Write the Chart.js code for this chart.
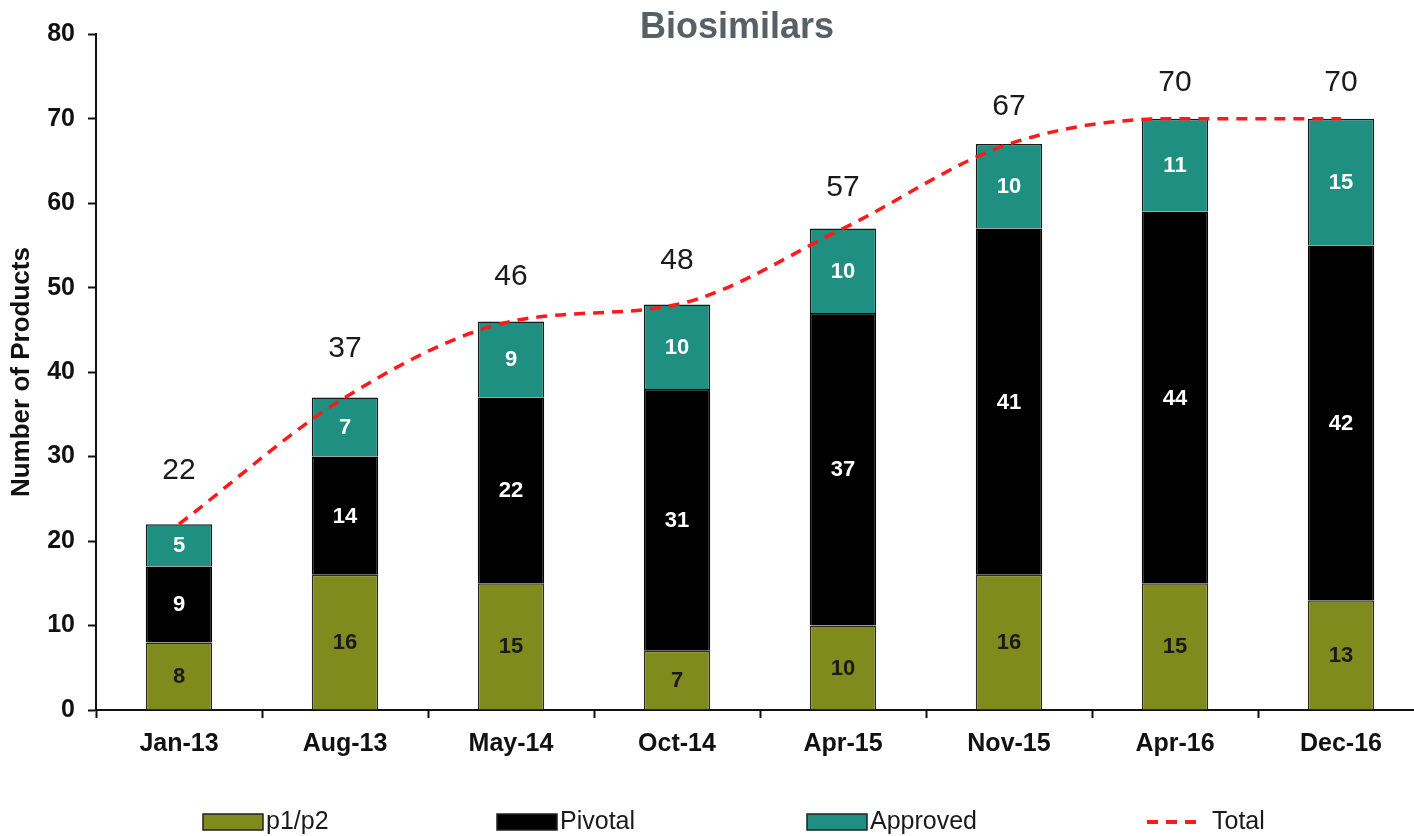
<!DOCTYPE html>
<html><head><meta charset="utf-8">
<script src="https://cdn.jsdelivr.net/npm/chart.js@4/dist/chart.umd.min.js"></script>
<style>html,body{margin:0;padding:0;overflow:hidden;background:#fff}#wrap{width:1474px;height:836px;position:relative}</style>
</head><body><div id="wrap"><canvas id="c"></canvas></div>
<script>
const categories = ['Jan-13','Aug-13','May-14','Oct-14','Apr-15','Nov-15','Apr-16','Dec-16'];
const p1p2 = [8,16,15,7,10,16,15,13];
const pivotal = [9,14,22,31,37,41,44,42];
const approved = [5,7,9,10,10,10,11,15];
const total = [22,37,46,48,57,67,70,70];
const seriesNames = ['p1/p2','Pivotal','Approved','Total'];
const yMin = 0, yMax = 80, yStep = 10;

const FONT = '"Liberation Sans", Arial, sans-serif';
Chart.defaults.font.family = FONT;

const valueLabels = {
  id: 'valueLabels',
  afterDatasetsDraw(chart) {
    const ctx = chart.ctx;
    chart.data.datasets.forEach((ds, i) => {
      const meta = chart.getDatasetMeta(i);
      if (!chart.isDatasetVisible(i)) return;
      ctx.save();
      ctx.textAlign = 'center';
      ctx.textBaseline = 'middle';
      meta.data.forEach((el, j) => {
        const v = ds.data[j];
        if (ds.type === 'line') {
          ctx.font = '30px ' + FONT;
          ctx.fillStyle = '#1a1a1a';
          const off = 62 - 0.37 * v;
          ctx.fillText(String(v), el.x, el.y - off);
        } else {
          const p = el.getProps(['x', 'y', 'base'], true);
          ctx.font = 'bold 22px ' + FONT;
          ctx.fillStyle = ds.labelColor;
          ctx.fillText(String(v), p.x, (p.y + p.base) / 2 + 1);
        }
      });
      ctx.restore();
    });
  }
};

const bottomLegend = {
  id: 'bottomLegend',
  afterDraw(chart) {
    const ctx = chart.ctx;
    const slots = [203, 497, 807, 1147];
    const cy = 822;
    ctx.save();
    ctx.font = '25px ' + FONT;
    ctx.textBaseline = 'middle';
    ctx.textAlign = 'left';
    chart.data.datasets.forEach((ds, i) => {
      const x = slots[i];
      if (ds.type === 'line') {
        ctx.save();
        ctx.strokeStyle = ds.borderColor;
        ctx.lineWidth = 4;
        ctx.setLineDash([11, 8]);
        ctx.beginPath();
        ctx.moveTo(x, cy);
        ctx.lineTo(x + 52, cy);
        ctx.stroke();
        ctx.restore();
        ctx.fillStyle = '#1a1a1a';
        ctx.fillText(ds.label, x + 65, cy);
      } else {
        ctx.fillStyle = ds.backgroundColor;
        ctx.fillRect(x, cy - 8, 60, 16);
        ctx.strokeStyle = '#222';
        ctx.lineWidth = 1.5;
        ctx.strokeRect(x, cy - 8, 60, 16);
        ctx.fillStyle = '#1a1a1a';
        ctx.fillText(ds.label, x + 63, cy);
      }
    });
    ctx.restore();
  }
};

new Chart(document.getElementById('c'), {
  data: {
    labels: categories,
    datasets: [
      { type: 'bar', label: seriesNames[0], data: p1p2, backgroundColor: '#808b1d', borderColor: '#2a2a2a', borderWidth: 1.5, labelColor: '#1a1a1a', stack: 's', order: 1 },
      { type: 'bar', label: seriesNames[1], data: pivotal, backgroundColor: '#000000', borderColor: '#000000', borderWidth: 1.5, labelColor: '#ffffff', stack: 's', order: 1 },
      { type: 'bar', label: seriesNames[2], data: approved, backgroundColor: '#1e8f80', borderColor: '#1a1a1a', borderWidth: 1.5, labelColor: '#ffffff', stack: 's', order: 1 },
      { type: 'line', label: seriesNames[3], data: total, borderColor: '#ff1a1a', backgroundColor: '#ff1a1a', borderWidth: 3.5, borderDash: [11, 8], pointRadius: 0, cubicInterpolationMode: 'monotone', fill: false, stack: 't', order: 0 }
    ]
  },
  options: {
    responsive: true,
    maintainAspectRatio: false,
    animation: false,
    layout: { padding: 0 },
    datasets: { bar: { categoryPercentage: 1, barPercentage: 0.4 } },
    plugins: {
      legend: { display: false },
      tooltip: { enabled: false },
      title: {
        display: true,
        text: 'Biosimilars',
        color: '#566066',
        font: { size: 36, weight: 'bold' },
        padding: { top: 6, bottom: -15 }
      }
    },
    scales: {
      x: {
        stacked: true,
        offset: true,
        afterFit(s) { s.height = 126; },
        grid: { display: true, drawOnChartArea: false, drawTicks: true, tickLength: 8, tickWidth: 2, tickColor: '#111', offset: true },
        border: { display: true, color: '#111', width: 2 },
        ticks: { color: '#111', font: { size: 25, weight: 'bold' }, padding: 11, maxRotation: 0, autoSkip: false }
      },
      y: {
        stacked: true,
        min: yMin, max: yMax,
        afterFit(s) { s.width = 96; },
        grid: { display: true, drawOnChartArea: false, drawTicks: true, tickLength: 8, tickWidth: 2, tickColor: '#111' },
        border: { display: true, color: '#111', width: 2 },
        ticks: { stepSize: yStep, color: '#111', font: { size: 25, weight: 'bold' }, padding: 13 },
        title: { display: true, text: 'Number of Products', color: '#111', font: { size: 26, weight: 'bold' }, padding: { top: 6.4, bottom: 0 } }
      },
      yRightSpace: {
        type: 'linear',
        position: 'right',
        display: true,
        afterFit(s) { s.width = 50; },
        grid: { display: false, drawTicks: false },
        border: { display: false },
        ticks: { display: false }
      }
    }
  },
  plugins: [valueLabels, bottomLegend]
});
</script>
</body></html>
